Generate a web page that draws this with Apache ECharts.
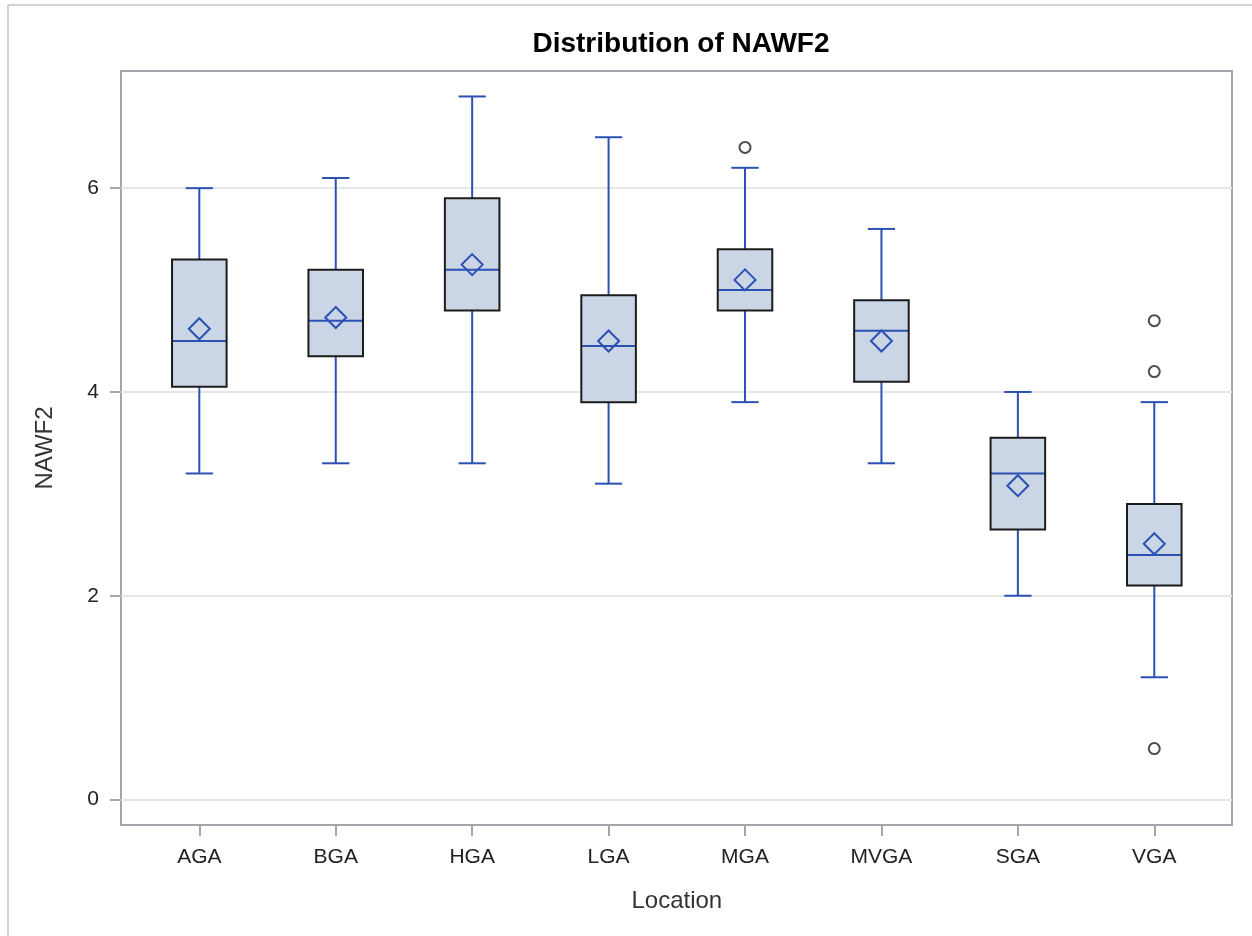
<!DOCTYPE html>
<html>
<head>
<meta charset="utf-8">
<script src="https://cdn.jsdelivr.net/npm/echarts@6/dist/echarts.min.js"></script>
<style>html,body{margin:0;padding:0;background:#fff}#c{width:1252px;height:936px}</style>
</head>
<body>
<div id="c"></div>
<script>
const categories = ['AGA', 'BGA', 'HGA', 'LGA', 'MGA', 'MVGA', 'SGA', 'VGA'];
const whiskerLow = [3.2, 3.3, 3.3, 3.1, 3.9, 3.3, 2.0, 1.2];
const q1 = [4.05, 4.35, 4.8, 3.9, 4.8, 4.1, 2.65, 2.1];
const median = [4.5, 4.7, 5.2, 4.45, 5.0, 4.6, 3.2, 2.4];
const q3 = [5.3, 5.2, 5.9, 4.95, 5.4, 4.9, 3.55, 2.9];
const whiskerHigh = [6.0, 6.1, 6.9, 6.5, 6.2, 5.6, 4.0, 3.9];
const mean = [4.62, 4.73, 5.25, 4.5, 5.1, 4.5, 3.08, 2.51];
const outliers = [['MGA', 6.4], ['VGA', 4.7], ['VGA', 4.2], ['VGA', 0.5]];
const yTicks = [0, 2, 4, 6];

const boxData = categories.map((c, i) => [i, whiskerLow[i], q1[i], median[i], q3[i], whiskerHigh[i], mean[i]]);

const BLUE = '#2B51B3';
const FONT = '"Liberation Sans", Arial, sans-serif';
const YMIN = -0.25, YMAX = 7.15;

const chart = echarts.init(document.getElementById('c'), null, {renderer: 'canvas'});

function renderItem(params, api) {
  const x = api.value(0);
  const band = api.size([1, 0])[0];
  const bw = band * 0.4, cw = band * 0.2;
  const pLow = api.coord([x, api.value(1)]);
  const pQ1 = api.coord([x, api.value(2)]);
  const pMed = api.coord([x, api.value(3)]);
  const pQ3 = api.coord([x, api.value(4)]);
  const pHigh = api.coord([x, api.value(5)]);
  const pMean = api.coord([x, api.value(6)]);
  const cx = pQ1[0];
  const lineStyle = {stroke: BLUE, lineWidth: 2};
  const d = 10.5;
  return {
    type: 'group',
    children: [
      {type: 'line', shape: {x1: cx, y1: pQ1[1], x2: cx, y2: pLow[1]}, style: lineStyle},
      {type: 'line', shape: {x1: cx, y1: pQ3[1], x2: cx, y2: pHigh[1]}, style: lineStyle},
      {type: 'line', shape: {x1: cx - cw / 2, y1: pLow[1], x2: cx + cw / 2, y2: pLow[1]}, style: lineStyle},
      {type: 'line', shape: {x1: cx - cw / 2, y1: pHigh[1], x2: cx + cw / 2, y2: pHigh[1]}, style: lineStyle},
      {type: 'rect', shape: {x: cx - bw / 2, y: pQ3[1], width: bw, height: pQ1[1] - pQ3[1]},
        style: {fill: '#CAD5E5', stroke: 'none'}},
      {type: 'line', shape: {x1: cx - bw / 2, y1: pMed[1], x2: cx + bw / 2, y2: pMed[1]}, style: lineStyle},
      {type: 'rect', shape: {x: cx - bw / 2, y: pQ3[1], width: bw, height: pQ1[1] - pQ3[1]},
        style: {fill: 'none', stroke: '#1C1C1C', lineWidth: 2}},
      {type: 'polygon', shape: {points: [[cx, pMean[1] - d], [cx + d, pMean[1]], [cx, pMean[1] + d], [cx - d, pMean[1]]]},
        style: {fill: 'none', stroke: BLUE, lineWidth: 2}}
    ]
  };
}

const option = {
  animation: false,
  backgroundColor: '#fff',
  title: {
    text: 'Distribution of NAWF2',
    left: 676, top: 25, textAlign: 'center',
    textStyle: {fontFamily: FONT, fontSize: 28, fontWeight: 'bold', color: '#000'}
  },
  graphic: [
    {type: 'line', shape: {x1: 8, y1: 5, x2: 1252, y2: 5}, style: {stroke: '#D2D2D2', lineWidth: 2}, silent: true},
    {type: 'line', shape: {x1: 8, y1: 5, x2: 8, y2: 936}, style: {stroke: '#D2D2D2', lineWidth: 2}, silent: true}
  ],
  grid: [
    {left: 121, right: 20, top: 71, bottom: 111, show: true, borderColor: '#A3A7AB', borderWidth: 2, backgroundColor: 'transparent'},
    {left: 131.1, right: 29.5, top: 71, bottom: 111}
  ],
  xAxis: [
    {gridIndex: 0, type: 'value', min: 0, max: 1, show: false},
    {
      gridIndex: 1, type: 'category', data: categories, boundaryGap: true, position: 'bottom',
      name: 'Location', nameLocation: 'middle', nameGap: 64,
      nameTextStyle: {fontFamily: FONT, fontSize: 24, color: '#333'},
      axisLine: {show: false, onZero: false},
      axisTick: {show: true, alignWithLabel: true, length: 11, lineStyle: {color: '#A3A7AB', width: 2}},
      axisLabel: {fontFamily: FONT, fontSize: 21, color: '#222', margin: 22},
      splitLine: {show: false}
    }
  ],
  yAxis: [
    {
      gridIndex: 0, type: 'value', min: YMIN, max: YMAX,
      name: 'NAWF2', nameLocation: 'middle', nameGap: 64,
      nameTextStyle: {fontFamily: FONT, fontSize: 24, color: '#333'},
      axisLine: {show: false},
      axisTick: {show: true, length: 11, customValues: yTicks, lineStyle: {color: '#A3A7AB', width: 2}},
      axisLabel: {fontFamily: FONT, fontSize: 21, color: '#222', margin: 22, customValues: yTicks},
      splitLine: {show: true, lineStyle: {color: '#E6E6E6', width: 2}}
    },
    {gridIndex: 1, type: 'value', min: YMIN, max: YMAX, show: false, splitLine: {show: false}}
  ],
  series: [
    {
      type: 'custom', xAxisIndex: 1, yAxisIndex: 1,
      renderItem: renderItem,
      encode: {x: 0, y: [1, 2, 3, 4, 5]},
      data: boxData, silent: true
    },
    {
      type: 'scatter', xAxisIndex: 1, yAxisIndex: 1,
      symbol: 'circle', symbolSize: 11,
      itemStyle: {color: 'rgba(0,0,0,0)', borderColor: '#222', borderWidth: 2},
      data: outliers, silent: true
    }
  ]
};
chart.setOption(option);
</script>
</body>
</html>
